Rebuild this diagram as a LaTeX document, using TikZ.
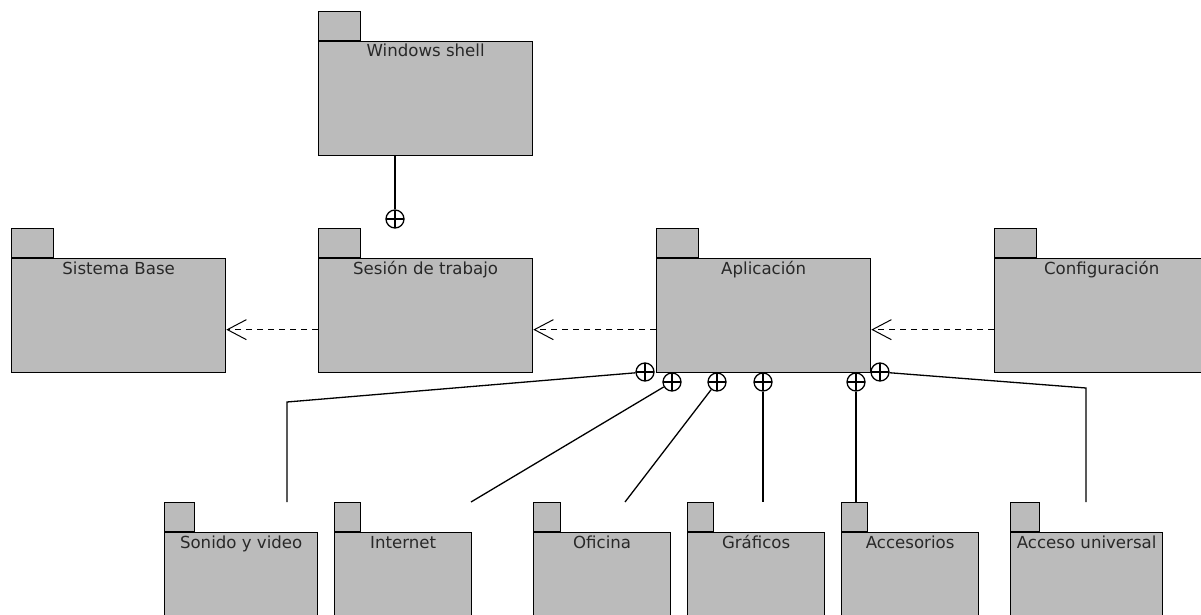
\documentclass[tikz,border=0pt]{standalone}
\usepackage{fontspec}
\setmainfont{DejaVu Sans}
\usetikzlibrary{arrows.meta}
\definecolor{pkgfill}{RGB}{187,187,187}
\definecolor{pkgtext}{RGB}{40,40,40}
\tikzset{
    pkgbody/.style={draw, fill=pkgfill, rectangle, inner sep=0pt, anchor=north west},
    pkgtab/.style={draw, fill=pkgfill, rectangle, inner sep=0pt, minimum height=29pt, anchor=south west},
    pkgname/.style={anchor=base, inner sep=0pt, text=pkgtext, font=\fontsize{16.6}{18}\selectfont},
    owner/.style={circle, draw, minimum size=18pt, inner sep=0pt,
        path picture={\draw (path picture bounding box.north) -- (path picture bounding box.south)
            (path picture bounding box.west) -- (path picture bounding box.east);}},
    dep/.style={dash pattern=on 6pt off 5pt, -{Straight Barb[length=19pt, width=20pt, line width=1pt]}}
}
\begin{document}
\begin{tikzpicture}[x=1pt, y=-1pt, line width=1.3pt]
    \clip (0, 0) rectangle (1201, 615);
    \fill[white] (0, 0) rectangle (1201, 615);
    % paquetes
    \foreach \n/\x/\y/\w/\h/\tw/\t in {
        windows/318/41/214/114/42/Windows shell,
        sistema/11/258/214/114/42/Sistema Base,
        sesion/318/258/214/114/42/Sesión de trabajo,
        aplicacion/656/258/214/114/42/Aplicación,
        config/994/258/214/114/42/Configuración,
        sonido/164/532/153/100/30/Sonido y video,
        internet/334/532/137/100/26/Internet,
        oficina/533/532/137/100/27/Oficina,
        graficos/687/532/137/100/26/Gráficos,
        accesorios/841/532/137/100/26/Accesorios,
        acceso/1010/532/152/100/29/Acceso universal} {
        \node[pkgbody, minimum width=\w pt, minimum height=\h pt] (\n) at (\x, \y) {};
        \node[pkgtab, minimum width=\tw pt] (\n-tab) at (\n.north west) {};
        \node[pkgname] (\n-name) at ([yshift=-16pt]\n.north) {\t};
    }
    % dependencias
    \draw[dep] ([yshift=-14pt]sesion.west) -- ([yshift=-14pt]sistema.east);
    \draw[dep] ([yshift=-14pt]aplicacion.west) -- ([yshift=-14pt]sesion.east);
    \draw[dep] ([yshift=-14pt]config.west) -- ([yshift=-14pt]aplicacion.east);
    % contencion
    \node[owner] (ws) at (395, 219) {};
    \draw (ws |- windows.south) -- (ws);
    \node[owner] (c1) at (645, 372) {};
    \node[owner] (c2) at (672, 382) {};
    \node[owner] (c3) at (717, 382) {};
    \node[owner] (c4) at (763, 382) {};
    \node[owner] (c5) at (856, 382) {};
    \node[owner] (c6) at (880, 372) {};
    \coordinate (k1) at (287, 402);
    \coordinate (e1) at (287, 502);
    \coordinate (e2) at (471, 502);
    \coordinate (e3) at (625, 502);
    \coordinate (e4) at (763, 502);
    \coordinate (k6) at (1086, 388);
    \coordinate (e6) at (1086, 502);
    \draw (c1) -- (k1) -- (e1);
    \draw (c2) -- (e2);
    \draw (c3) -- (e3);
    \draw (c4) -- (e4);
    \draw (c5) -- (c5 |- accesorios-tab.north);
    \draw (c6) -- (k6) -- (e6);
\end{tikzpicture}
\end{document}
